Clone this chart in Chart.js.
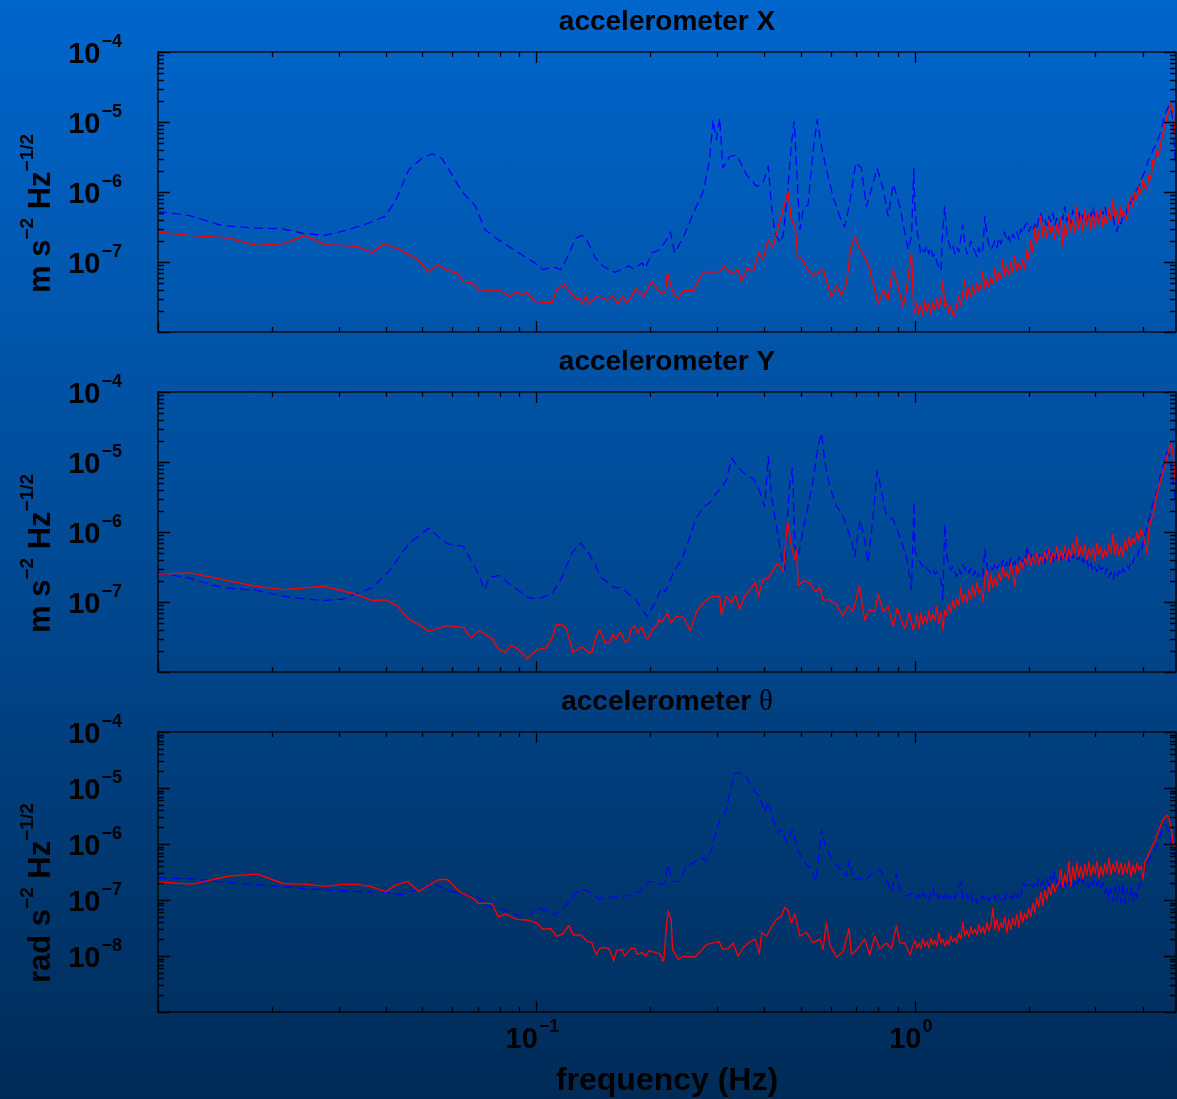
<!DOCTYPE html>
<html>
<head>
<meta charset="utf-8">
<title>accelerometer spectra</title>
<script src="https://cdn.jsdelivr.net/npm/chart.js@4.4.1/dist/chart.umd.min.js"></script>
<style>
  html, body { margin: 0; padding: 0; }
  #wrap {
    position: relative; width: 1177px; height: 1099px; overflow: hidden;
    background: linear-gradient(to bottom, #0066cc 0%, #004a94 50%, #002b57 100%);
  }
  canvas { position: absolute; left: 0; }
</style>
</head>
<body>
<div id="wrap">
  <canvas id="panelX" width="1177" height="340" style="top:0px"></canvas>
  <canvas id="panelY" width="1177" height="340" style="top:340px"></canvas>
  <canvas id="panelT" width="1177" height="419" style="top:680px"></canvas>
</div>
<script>
// ---- data below 1 Hz (frequency in Hz, amplitude spectral density) ----
const xBlueFreq = [0.0100,0.0121,0.0148,0.0181,0.0213,0.0245,0.0276,0.0312,0.0360,0.0398,0.0424,0.0460,0.0499,0.0530,0.0563,0.0598,0.0635,0.0691,0.0731,0.0794,0.0897,0.0990,0.104,0.111,0.116,0.121,0.127,0.132,0.137,0.143,0.150,0.161,0.168,0.175,0.181,0.190,0.194,0.202,0.212,0.221,0.226,0.232,0.245,0.260,0.276,0.287,0.293,0.299,0.305,0.311,0.324,0.338,0.359,0.382,0.397,0.410,0.418,0.427,0.440,0.449,0.462,0.472,0.480,0.487,0.497,0.507,0.522,0.539,0.552,0.567,0.584,0.608,0.633,0.653,0.673,0.698,0.722,0.745,0.768,0.795,0.825,0.850,0.877,0.913,0.960,0.980,0.994];
const xBlueAsd = [5.3e-7,4.6e-7,3.3e-7,3.06e-7,2.98e-7,2.54e-7,2.41e-7,2.8e-7,3.6e-7,4.5e-7,7.4e-7,2.08e-6,3.06e-6,3.5e-6,3.0e-6,1.77e-6,1.02e-6,6.2e-7,2.9e-7,2.08e-7,1.35e-7,9.7e-8,7.8e-8,8.5e-8,7.8e-8,1.2e-7,2.2e-7,2.4e-7,1.9e-7,1.15e-7,8.7e-8,7.1e-8,7.8e-8,8.8e-8,7.9e-8,9.7e-8,8.2e-8,1.35e-7,1.5e-7,2.1e-7,2.7e-7,1.35e-7,2.3e-7,5e-7,1.02e-6,3.0e-6,1.08e-5,5.6e-6,1.14e-5,2.2e-6,3.2e-6,3.4e-6,1.77e-6,1.2e-6,1.35e-6,2.33e-6,6.2e-7,2.6e-7,1.9e-7,2.4e-7,1.1e-6,5.0e-6,1.02e-5,2.33e-6,2.9e-7,5.6e-7,6.6e-7,4.0e-6,1.08e-5,4.4e-6,2.08e-6,8.6e-7,4.49e-7,3.2e-7,7e-7,2.6e-6,2.2e-6,6.2e-7,1.1e-6,2.2e-6,1.1e-6,4.5e-7,1.3e-6,6.2e-7,1.5e-7,2.3e-7,2.2e-6];
const xRedFreq = [0.0100,0.0121,0.0154,0.0183,0.0215,0.0245,0.0276,0.0335,0.0368,0.0396,0.0432,0.0488,0.0519,0.0549,0.0580,0.0616,0.0642,0.0676,0.0712,0.0764,0.0811,0.0852,0.0888,0.0916,0.0944,0.100,0.104,0.110,0.113,0.119,0.123,0.127,0.131,0.132,0.135,0.137,0.144,0.150,0.154,0.159,0.164,0.169,0.173,0.178,0.183,0.186,0.192,0.197,0.202,0.207,0.214,0.219,0.222,0.229,0.237,0.245,0.260,0.268,0.278,0.293,0.305,0.315,0.328,0.341,0.348,0.361,0.374,0.386,0.397,0.410,0.422,0.435,0.451,0.462,0.472,0.484,0.490,0.507,0.522,0.539,0.555,0.572,0.584,0.602,0.621,0.640,0.660,0.676,0.694,0.716,0.737,0.760,0.784,0.800,0.825,0.850,0.873,0.898,0.931,0.950,0.980,0.994];
const xRedAsd = [2.68e-7,2.4e-7,2.2e-7,1.72e-7,1.83e-7,2.4e-7,1.77e-7,1.68e-7,1.36e-7,1.83e-7,1.54e-7,1.07e-7,7.2e-8,9.2e-8,7.6e-8,7.0e-8,5.3e-8,5.0e-8,3.8e-8,4.0e-8,3.8e-8,3.2e-8,3.8e-8,3.4e-8,3.7e-8,2.54e-8,2.65e-8,2.6e-8,4.0e-8,4.8e-8,3.6e-8,3.05e-8,2.95e-8,2.5e-8,3.3e-8,2.5e-8,3.2e-8,3.05e-8,2.85e-8,3.3e-8,2.5e-8,3.3e-8,2.65e-8,3.05e-8,4.2e-8,3.8e-8,3.2e-8,4.2e-8,5.3e-8,4.4e-8,3.5e-8,3.7e-8,7.0e-8,3.8e-8,3.0e-8,3.9e-8,3.9e-8,5.5e-8,7.3e-8,7.2e-8,7.3e-8,8.8e-8,6.9e-8,7.8e-8,5.3e-8,8.2e-8,7.3e-8,1.36e-7,1.1e-7,2.1e-7,1.6e-7,3.1e-7,6.2e-7,1.02e-6,4.0e-7,2.9e-7,1.2e-7,1.03e-7,7.8e-8,6.3e-8,7.0e-8,7.8e-8,5.5e-8,3.2e-8,4.5e-8,3.4e-8,5.0e-8,1.5e-7,2.3e-7,1.5e-7,1.2e-7,7.8e-8,4.0e-8,2.5e-8,4.0e-8,2.9e-8,7.8e-8,5.0e-8,2.3e-8,4.0e-8,1.36e-7,1.87e-8];

const yBlueFreq = [0.0100,0.0121,0.0148,0.0181,0.0217,0.0245,0.0276,0.0307,0.0332,0.0368,0.0407,0.0460,0.0519,0.0580,0.0642,0.0697,0.0731,0.0748,0.0794,0.0863,0.0954,0.101,0.110,0.117,0.124,0.131,0.138,0.149,0.161,0.168,0.183,0.196,0.206,0.214,0.219,0.230,0.243,0.253,0.263,0.276,0.287,0.299,0.308,0.318,0.328,0.345,0.363,0.374,0.389,0.401,0.410,0.418,0.431,0.444,0.453,0.465,0.475,0.482,0.492,0.507,0.522,0.539,0.555,0.567,0.578,0.596,0.621,0.640,0.660,0.680,0.694,0.716,0.737,0.752,0.776,0.795,0.816,0.841,0.877,0.913,0.950,0.980,0.996];
const yBlueAsd = [2.6e-7,2.2e-7,1.6e-7,1.48e-7,1.2e-7,1.1e-7,1.05e-7,1.1e-7,1.3e-7,1.6e-7,2.7e-7,6.8e-7,1.13e-6,6.8e-7,6.2e-7,2.7e-7,1.5e-7,2.2e-7,2.4e-7,1.7e-7,1.15e-7,1.1e-7,1.3e-7,2.3e-7,5.0e-7,7.0e-7,4.8e-7,2.2e-7,1.6e-7,1.6e-7,1.07e-7,6.2e-8,9.7e-8,1.6e-7,1.4e-7,2.6e-7,4.2e-7,7.7e-7,1.5e-6,2.3e-6,2.6e-6,3.6e-6,4.2e-6,5.6e-6,1.14e-5,7.8e-6,6.1e-6,5.9e-6,3.8e-6,2.3e-6,1.2e-5,3.2e-6,1.2e-6,4.5e-7,2.9e-7,4.0e-6,8.2e-6,6.2e-7,4.5e-7,1.1e-6,2.3e-6,5.6e-6,1.7e-5,2.6e-5,1.02e-5,4.5e-6,2.3e-6,1.9e-6,1.2e-6,7.7e-7,4.5e-7,1.5e-6,7.7e-7,3.6e-7,1.7e-6,7.4e-6,4.0e-6,1.7e-6,1.5e-6,8.6e-7,4.5e-7,1.5e-7,2.7e-6];
const yRedFreq = [0.0100,0.0122,0.0154,0.0181,0.0215,0.0274,0.0332,0.0368,0.0400,0.0429,0.0460,0.0488,0.0519,0.0580,0.0642,0.0673,0.0705,0.0764,0.0794,0.0828,0.0858,0.0888,0.0948,0.0972,0.101,0.106,0.110,0.113,0.117,0.120,0.125,0.132,0.137,0.140,0.144,0.147,0.152,0.156,0.159,0.162,0.166,0.168,0.171,0.175,0.178,0.182,0.185,0.190,0.194,0.197,0.203,0.208,0.211,0.214,0.222,0.227,0.234,0.245,0.255,0.265,0.276,0.287,0.296,0.305,0.308,0.318,0.328,0.336,0.344,0.355,0.367,0.379,0.386,0.397,0.410,0.422,0.435,0.449,0.461,0.472,0.482,0.487,0.492,0.507,0.528,0.545,0.561,0.572,0.596,0.621,0.644,0.666,0.687,0.713,0.737,0.760,0.784,0.800,0.825,0.850,0.877,0.898,0.922,0.941,0.966,0.990];
const yRedAsd = [2.5e-7,2.6e-7,2.0e-7,1.68e-7,1.5e-7,1.68e-7,1.3e-7,1.05e-7,1.07e-7,8.8e-8,5.7e-8,4.8e-8,3.8e-8,4.6e-8,4.3e-8,3.05e-8,3.9e-8,3.0e-8,2.1e-8,1.9e-8,2.4e-8,2.2e-8,1.55e-8,1.8e-8,2.1e-8,2.2e-8,3.05e-8,4.8e-8,4.7e-8,4.2e-8,1.9e-8,2.3e-8,1.9e-8,1.9e-8,3.3e-8,4.0e-8,2.6e-8,2.6e-8,3.5e-8,2.95e-8,3.7e-8,3.5e-8,2.7e-8,2.75e-8,4.1e-8,4.6e-8,3.6e-8,4.4e-8,3.2e-8,2.95e-8,4.1e-8,4.7e-8,5.6e-8,5.1e-8,6.9e-8,5.0e-8,6.3e-8,6.0e-8,3.9e-8,7.3e-8,9.7e-8,1.15e-7,1.2e-7,1.2e-7,6.6e-8,1.2e-7,9.7e-8,1.25e-7,7.8e-8,1.2e-7,1.5e-7,1.9e-7,1.2e-7,2.1e-7,2.2e-7,2.9e-7,3.6e-7,2.7e-7,1.43e-6,6.2e-7,4.0e-7,5.6e-7,1.7e-7,2.0e-7,1.9e-7,1.4e-7,1.6e-7,1.07e-7,1.07e-7,9.2e-8,6.3e-8,8.7e-8,7.3e-8,1.7e-7,5.5e-8,7.8e-8,7.3e-8,1.3e-7,7.3e-8,8.7e-8,4.5e-8,8.2e-8,5.5e-8,4.1e-8,7.2e-8,4.0e-8];

const tBlueFreq = [0.0100,0.0121,0.0148,0.0181,0.0221,0.0271,0.0332,0.0391,0.0441,0.0488,0.0542,0.0574,0.0635,0.0705,0.0748,0.0811,0.0897,0.0972,0.100,0.107,0.112,0.119,0.127,0.132,0.137,0.146,0.155,0.164,0.175,0.183,0.188,0.198,0.206,0.214,0.218,0.223,0.229,0.239,0.249,0.260,0.271,0.281,0.290,0.296,0.305,0.318,0.324,0.334,0.345,0.355,0.362,0.377,0.389,0.401,0.410,0.422,0.436,0.444,0.459,0.475,0.492,0.513,0.534,0.548,0.567,0.584,0.608,0.633,0.660,0.673,0.687,0.716,0.745,0.776,0.808,0.841,0.867,0.894,0.913,0.950,0.990];
const tBlueAsd = [2.47e-7,2.4e-7,2.1e-7,1.88e-7,1.7e-7,1.53e-7,1.43e-7,1.39e-7,1.25e-7,1.57e-7,1.88e-7,1.53e-7,1.3e-7,1.1e-7,7.7e-8,6.8e-8,5.25e-8,5.9e-8,7.2e-8,6.3e-8,5.5e-8,7.7e-8,1.35e-7,1.57e-7,1.43e-7,1.06e-7,1.1e-7,1.16e-7,1.2e-7,1.35e-7,1.43e-7,2.15e-7,2.1e-7,1.88e-7,2.0e-7,4.3e-7,2.15e-7,2.15e-7,4.0e-7,4.6e-7,5.8e-7,5.0e-7,7.9e-7,1.37e-6,2.72e-6,4.1e-6,8.1e-6,1.85e-5,1.85e-5,1.7e-5,1.4e-5,8.7e-6,7.1e-6,3.6e-6,5.8e-6,2.72e-6,1.57e-6,1.8e-6,1.05e-6,1.8e-6,7.4e-7,4.6e-7,3.5e-7,2.15e-7,1.8e-6,7.9e-7,5.0e-7,3.7e-7,2.65e-7,5.3e-7,2.3e-7,2.4e-7,2.3e-7,3.2e-7,3.5e-7,2.3e-7,1.43e-7,3.0e-7,1.53e-7,1.16e-7,1.35e-7];
const tRedFreq = [0.0100,0.0123,0.0154,0.0183,0.0215,0.0245,0.0276,0.0307,0.0335,0.0364,0.0400,0.0424,0.0457,0.0488,0.0519,0.0549,0.0580,0.0628,0.0676,0.0705,0.0731,0.0764,0.0794,0.0828,0.0888,0.0954,0.100,0.104,0.109,0.113,0.117,0.122,0.125,0.131,0.137,0.140,0.144,0.147,0.153,0.156,0.160,0.163,0.168,0.171,0.175,0.178,0.182,0.185,0.190,0.195,0.198,0.206,0.212,0.216,0.217,0.221,0.223,0.227,0.229,0.237,0.245,0.255,0.262,0.271,0.281,0.293,0.304,0.311,0.321,0.331,0.341,0.352,0.367,0.379,0.388,0.394,0.406,0.418,0.431,0.444,0.453,0.462,0.472,0.482,0.497,0.517,0.539,0.561,0.572,0.584,0.596,0.621,0.647,0.670,0.680,0.706,0.737,0.760,0.784,0.808,0.841,0.867,0.894,0.913,0.941,0.970];
const tRedAsd = [2.1e-7,1.92e-7,2.68e-7,2.9e-7,1.95e-7,1.92e-7,1.75e-7,1.9e-7,1.9e-7,1.75e-7,1.4e-7,1.82e-7,2.15e-7,1.43e-7,1.8e-7,2.3e-7,2.35e-7,1.39e-7,1.1e-7,8.6e-8,8.8e-8,8.5e-8,5.0e-8,5.6e-8,4.5e-8,4.35e-8,3.9e-8,3.0e-8,3.1e-8,2.25e-8,2.45e-8,3.5e-8,2.4e-8,2.35e-8,1.8e-8,1.75e-8,1.05e-8,1.38e-8,1.42e-8,1.3e-8,8.3e-9,1.27e-8,1.3e-8,1.0e-8,1.2e-8,1.38e-8,1.35e-8,1.07e-8,1.15e-8,1.0e-8,1.25e-8,1.15e-8,1.1e-8,8.1e-9,8.1e-9,3.9e-8,6.3e-8,4.5e-8,1.3e-8,8.7e-9,9.9e-9,9.7e-9,9.5e-9,1.2e-8,1.6e-8,1.71e-8,1.8e-8,1.3e-8,1.35e-8,1.71e-8,9.9e-9,1.42e-8,1.8e-8,2.0e-8,1.1e-8,2.6e-8,2.25e-8,3.3e-8,4.5e-8,5.1e-8,7.4e-8,6.6e-8,3.9e-8,5.7e-8,2.25e-8,2.65e-8,1.71e-8,2.0e-8,1.3e-8,3.9e-8,1.6e-8,9.5e-9,1.2e-8,3.1e-8,1.05e-8,1.35e-8,2.0e-8,1.05e-8,2.25e-8,1.35e-8,1.71e-8,1.35e-8,3.4e-8,1.71e-8,1.71e-8,1.05e-8];

// ---- dense part above 1 Hz: shared frequency grid, values in units of 1e-8 ----
const hiFreq = [1.000,1.012,1.025,1.037,1.050,1.063,1.076,1.089,1.102,1.116,
  1.130,1.143,1.157,1.172,1.186,1.200,1.215,1.230,1.245,1.260,
  1.276,1.291,1.307,1.323,1.339,1.356,1.372,1.389,1.406,1.423,
  1.441,1.459,1.476,1.495,1.513,1.531,1.550,1.569,1.588,1.608,
  1.627,1.647,1.667,1.688,1.708,1.729,1.750,1.772,1.793,1.815,
  1.838,1.860,1.883,1.906,1.929,1.953,1.977,2.001,2.025,2.050,
  2.075,2.101,2.126,2.152,2.179,2.205,2.233,2.260,2.288,2.316,
  2.344,2.373,2.402,2.431,2.461,2.491,2.522,2.553,2.584,2.616,
  2.648,2.680,2.713,2.746,2.780,2.814,2.849,2.884,2.919,2.955,
  2.991,3.028,3.065,3.102,3.141,3.179,3.218,3.258,3.297,3.338,
  3.379,3.420,3.462,3.505,3.548,3.591,3.635,3.680,3.725,3.771,
  3.817,3.864,3.911,3.959,4.008,4.057,4.107,4.157,4.208,4.260,
  4.312,4.365,4.419,4.473,4.528,4.583,4.640,4.697,4.754,4.813,4.872,4.932];
const xRedHiE8 = [1.9,2.6,1.8,2.4,1.7,2.8,2.0,2.5,1.8,2.7,
  2.1,3.0,2.2,2.9,5.3,2.3,2.6,1.9,2.4,1.8,
  1.7,2.5,3.2,2.4,3.6,5.5,3.0,4.2,3.2,4.5,
  3.5,5.0,3.8,4.6,7.3,4.2,5.5,4.4,6.0,5.0,
  8.2,5.3,7.0,5.8,11,6.3,8.7,6.5,10,7.2,
  12,7.5,9.7,8.0,11,7.8,15,11,20,14,
  32,19,25,45,23,33,22,40,26,32,
  21,36,25,42,17,34,24,50,28,40,
  26,62,30,45,27,56,33,50,29,48,
  32,52,35,56,31,45,36,60,40,78,
  42,55,36,62,45,50,40,70,86,62,
  100,80,120,95,150,115,110,180,150,290,
  260,400,330,520,700,900,1200,1500,1850,1400,700,450];
const xBlueHiE8 = [60,29,20,13,15,14,17,13,16,12,
  13,10,8.5,7.4,30,62,25,19,15,17,
  13,16,14,22,34,18,13,15,20,17,
  14,12,16,13,15,45,25,18,15,17,
  20,16,22,18,24,27,20,23,19,25,
  22,27,21,30,26,33,36,27,32,28,
  35,29,42,50,36,40,33,45,38,50,
  34,42,32,46,40,62,38,48,36,55,
  45,40,56,35,48,42,38,52,45,62,
  44,50,42,56,48,62,45,52,40,46,
  32,27,38,35,45,42,55,60,74,80,
  95,110,120,150,170,200,250,300,330,400,
  450,520,620,780,1000,1300,1500,1700,1600,900,300,260];
const yRedHiE8 = [4.5,6.6,4.2,7.0,4.8,6.3,5.0,7.5,5.3,6.8,
  5.5,8.7,5.0,7.2,4.0,7.8,6.5,9.2,7.0,10.5,
  8.0,11,9.0,16,10,13,9.7,15,11,17,
  12,19,13.5,15,10.3,22,29,14,25,16,
  22,17,26,20,32,23,27,21,36,25,
  17,34,26,38,30,42,35,48,33,45,
  36,50,34,46,38,52,40,58,36,50,
  45,62,38,55,42,64,40,58,44,70,
  48,86,45,62,47,66,40,58,44,60,
  38,70,48,62,42,56,45,68,50,92,
  48,70,46,62,44,75,55,86,62,80,
  70,100,75,110,90,70,50,110,150,170,
  250,360,450,600,700,900,1200,1500,1800,1300,560,400];
const yBlueHiE8 = [56,45,40,36,32,35,30,28,26,30,
  25,27,23,21,11,130,45,35,28,32,
  26,23,30,25,34,29,32,26,30,24,
  28,22,26,21,24,57,33,27,31,29,
  36,30,34,29,40,32,37,30,42,34,
  38,33,45,36,40,34,62,42,48,38,
  45,40,52,42,48,36,55,40,50,38,
  56,42,48,40,52,45,55,38,46,42,
  50,40,45,36,42,34,40,30,36,28,
  32,27,34,29,31,25,30,23,27,21,
  26,22,28,24,30,27,33,30,40,36,
  45,42,55,50,70,90,110,150,200,260,
  330,400,520,700,870,1100,1400,1300,900,500,300,260];
const tRedHiE8 = [1.9,1.4,1.7,1.35,2.0,1.5,1.8,1.4,2.1,1.6,
  1.9,1.5,2.6,1.7,2.0,1.5,1.9,1.6,2.3,1.8,
  2.1,1.7,2.6,2.0,4.0,2.3,2.9,2.2,3.3,2.5,
  3.0,2.4,3.6,2.6,3.3,2.5,4.0,2.8,3.5,7.2,
  3.0,4.5,2.8,4.0,3.2,5.0,2.6,4.5,3.0,4.8,
  3.5,5.5,3.3,6.3,4.0,5.8,4.6,7.0,5.0,8.8,
  6.0,11,7.5,13.5,8.0,15,10,17,12,20,
  14,18,20,35,17,30,20,49,18,40,
  23,46,26,40,24,43,28,48,27,42,
  30,49,25,40,27,45,30,56,28,44,
  32,49,30,46,28,44,30,50,26,42,
  30,46,34,40,23,48,55,69,80,97,
  110,150,180,220,270,300,330,280,200,105,90,80];
const tBlueHiE8 = [13,11,12.5,10.5,13.5,11.5,12,10,13,17,
  11,12.5,10.5,13,11,12.5,9.6,12,10.5,13,
  11,12.5,17.5,21,11,10,12.5,10.5,13,9.5,
  11.5,8.8,11,10,12,10,11.6,9.6,11,9.6,
  12,10,12.5,9.8,11.5,10,13,11,12,10.5,
  14,11,13.5,11.5,20,17.5,19,16.5,18.8,17,
  19,16,24,18,22,15.5,25,18,26.5,20,
  32,20,25,17,22,18,24,19,23,17.5,
  21,17,24,19,23,18,20,17,23,19,
  25,18,22,17,20,13,18,11,16,9.6,
  17,10,18,9,20,8.8,16,10,17,9.5,
  15,11,18,20,30,35,45,53,60,69,
  79,95,120,157,200,220,200,160,105,70,60,55];

const panelTitles = ['accelerometer X', 'accelerometer Y', 'accelerometer '];
const yTickExpXY = [-4, -5, -6, -7];
const yTickExpTheta = [-4, -5, -6, -7, -8];
const xTickExp = [-1, 0];

const SANS = '"Liberation Sans", Arial, Helvetica, sans-serif';

// low-frequency points followed by the dense part
function series(f, v, hiE8) {
  const out = f.map((x, i) => ({ x: x, y: v[i] }));
  hiFreq.forEach((x, i) => out.push({ x: x, y: hiE8[i] * 1e-8 }));
  return out;
}

// "10" followed by a raised exponent, starting at x
function drawPow(ctx, x, baseline, exp) {
  ctx.font = 'bold 29px ' + SANS;
  ctx.fillText('10', x, baseline);
  const w = ctx.measureText('10').width;
  ctx.font = 'bold 18px ' + SANS;
  ctx.fillText(exp === 0 ? '0' : '\u2212' + Math.abs(exp), x + w + 1, baseline - 16);
}
function powWidth(ctx, exp) {
  ctx.font = 'bold 29px ' + SANS;
  const a = ctx.measureText('10').width;
  ctx.font = 'bold 18px ' + SANS;
  return a + 1 + ctx.measureText(exp === 0 ? '0' : '\u2212' + Math.abs(exp)).width;
}

// frame, inward ticks, labels and titles
const framePlugin = {
  id: 'frame',
  afterDatasetsDraw(chart, args, o) {
    const ctx = chart.ctx, a = chart.chartArea;
    const xs = chart.scales.x, ys = chart.scales.y;
    ctx.save();
    ctx.strokeStyle = '#000';
    ctx.fillStyle = '#000';
    ctx.lineWidth = 1.3;
    ctx.strokeRect(a.left, a.top, a.right - a.left, a.bottom - a.top);

    ctx.beginPath();
    for (let e = -2; e <= 0; e++) {
      for (let m = 1; m <= 9; m++) {
        const v = m * Math.pow(10, e);
        if (v < xs.min * 0.999 || v > xs.max) continue;
        const px = Math.round(xs.getPixelForValue(v)) + 0.5;
        const len = m === 1 ? 11 : 5;
        ctx.moveTo(px, a.top); ctx.lineTo(px, a.top + len);
        ctx.moveTo(px, a.bottom); ctx.lineTo(px, a.bottom - len);
      }
    }
    const e0 = Math.round(Math.log10(ys.min)), e1 = Math.round(Math.log10(ys.max));
    for (let e = e0; e <= e1; e++) {
      for (let m = 1; m <= 9; m++) {
        const v = m * Math.pow(10, e);
        if (v < ys.min * 0.999 || v > ys.max * 1.001) continue;
        const py = Math.round(ys.getPixelForValue(v)) + 0.5;
        const len = m === 1 ? 12 : 6;
        ctx.moveTo(a.left, py); ctx.lineTo(a.left + len, py);
        ctx.moveTo(a.right, py); ctx.lineTo(a.right - len, py);
      }
    }
    ctx.stroke();

    // y tick labels, right edge at x = 122
    ctx.textAlign = 'left';
    ctx.textBaseline = 'alphabetic';
    o.yExp.forEach(e => {
      const py = ys.getPixelForValue(Math.pow(10, e));
      drawPow(ctx, 122 - powWidth(ctx, e), py + 11, e);
    });

    // x tick labels and axis title (bottom panel only)
    if (o.xLabels) {
      xTickExp.forEach(e => {
        const px = xs.getPixelForValue(Math.pow(10, e));
        drawPow(ctx, px - powWidth(ctx, e) / 2 - 4, 368, e);
      });
      ctx.font = 'bold 32px ' + SANS;
      ctx.textAlign = 'center';
      ctx.fillText('frequency (Hz)', (a.left + a.right) / 2, 410);
      ctx.textAlign = 'left';
    }

    // panel title
    const cx = (a.left + a.right) / 2;
    ctx.font = 'bold 28px ' + SANS;
    const tw = ctx.measureText(o.title).width;
    if (o.theta) {
      ctx.font = '29px "Liberation Serif", "DejaVu Serif", serif';
      const thw = ctx.measureText('\u03b8').width;
      const x0 = cx - (tw + thw) / 2;
      ctx.fillText('\u03b8', x0 + tw, 30);
      ctx.font = 'bold 28px ' + SANS;
      ctx.fillText(o.title, x0, 30);
    } else {
      ctx.fillText(o.title, cx - tw / 2, 30);
    }

    // rotated unit label with superscripts
    ctx.translate(50, o.unitStart);
    ctx.rotate(-Math.PI / 2);
    let x = 0;
    o.unit.forEach(part => {
      ctx.font = 'bold ' + (part.sup ? 19 : 31) + 'px ' + SANS;
      ctx.fillText(part.t, x, part.sup ? -17 : 0);
      x += ctx.measureText(part.t).width;
    });
    ctx.restore();
  }
};

function unitParts(first) {
  return [{ t: first }, { t: '\u22122', sup: true }, { t: ' Hz' }, { t: '\u22121/2', sup: true }];
}

function makePanel(id, blue, red, yMin, padBottom, opts) {
  return new Chart(document.getElementById(id), {
    type: 'line',
    data: {
      datasets: [
        { data: red, borderColor: '#ff0000', borderWidth: 1.35 },
        { data: blue, borderColor: '#0000ff', borderWidth: 1.3, borderDash: [9, 5] }
      ]
    },
    options: {
      responsive: false,
      animation: false,
      devicePixelRatio: 1,
      layout: { padding: { left: 158, right: 1, top: 52, bottom: padBottom } },
      elements: { point: { radius: 0 }, line: { tension: 0, borderJoinStyle: 'round' } },
      plugins: { legend: { display: false }, tooltip: { enabled: false }, frame: opts },
      scales: {
        x: { type: 'logarithmic', min: 0.01, max: 4.9, display: false },
        y: { type: 'logarithmic', min: yMin, max: 1e-4, display: false }
      }
    },
    plugins: [framePlugin]
  });
}

makePanel('panelX', series(xBlueFreq, xBlueAsd, xBlueHiE8), series(xRedFreq, xRedAsd, xRedHiE8), 1e-8, 8,
  { title: panelTitles[0], yExp: yTickExpXY, unit: unitParts('m s'), unitStart: 293 });
makePanel('panelY', series(yBlueFreq, yBlueAsd, yBlueHiE8), series(yRedFreq, yRedAsd, yRedHiE8), 1e-8, 8,
  { title: panelTitles[1], yExp: yTickExpXY, unit: unitParts('m s'), unitStart: 293 });
makePanel('panelT', series(tBlueFreq, tBlueAsd, tBlueHiE8), series(tRedFreq, tRedAsd, tRedHiE8), 1e-9, 87,
  { title: panelTitles[2], theta: true, yExp: yTickExpTheta, unit: unitParts('rad s'), unitStart: 303, xLabels: true });
</script>
</body>
</html>
